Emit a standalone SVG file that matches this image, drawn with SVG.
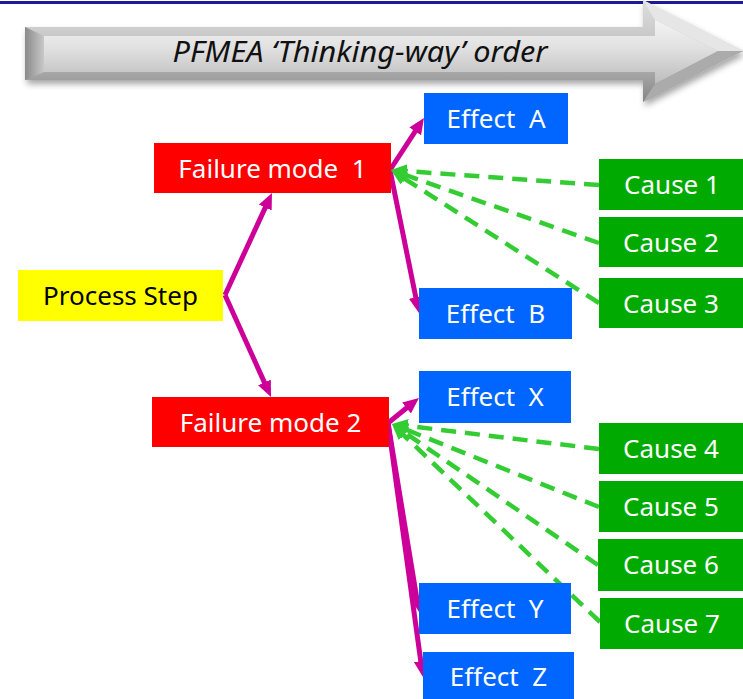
<svg xmlns="http://www.w3.org/2000/svg" width="743" height="699" viewBox="0 0 743 699">
<defs>
<style>
.t{font-family:"Noto Sans","DejaVu Sans",sans-serif;font-size:26px;text-anchor:middle;white-space:pre}
.w{fill:#ffffff}
.k{fill:#000000}
.red{fill:#FF0000}
.blue{fill:#0066FF}
.green{fill:#00AA00}
.yel{fill:#FFFF00}
.mag{stroke:#CC0099;stroke-width:5;fill:none;marker-end:url(#am)}
.dash{stroke:#33CC33;stroke-width:4.5;fill:none;stroke-dasharray:15 9;marker-end:url(#ag)}
</style>
<marker id="am" markerUnits="userSpaceOnUse" markerWidth="18" markerHeight="16" refX="6" refY="7" orient="auto">
<path d="M0,0 L16,7 L0,14 z" fill="#CC0099"/>
</marker>
<marker id="ag" markerUnits="userSpaceOnUse" markerWidth="18" markerHeight="16" refX="6" refY="7" orient="auto">
<path d="M0,0 L16,7 L0,14 z" fill="#33CC33"/>
</marker>
<linearGradient id="gOut" x1="0" y1="0" x2="0" y2="1">
<stop offset="0" stop-color="#dedede"/>
<stop offset="0.5" stop-color="#c0c0c0"/>
<stop offset="1" stop-color="#858585"/>
</linearGradient>
<linearGradient id="gIn" x1="0" y1="0" x2="0" y2="1">
<stop offset="0" stop-color="#f4f4f4"/>
<stop offset="0.45" stop-color="#e0e0e0"/>
<stop offset="1" stop-color="#bcbcbc"/>
</linearGradient>
<linearGradient id="gLeft" x1="0" y1="0" x2="1" y2="0">
<stop offset="0" stop-color="#8a8a8a"/>
<stop offset="1" stop-color="#c8c8c8"/>
</linearGradient>
<filter id="sh" x="-5%" y="-20%" width="110%" height="150%">
<feDropShadow dx="2" dy="4" stdDeviation="3" flood-color="#000" flood-opacity="0.35"/>
</filter>
</defs>

<g id="banner">
<line x1="0" y1="2.5" x2="743" y2="2.5" stroke="#1a1a9a" stroke-width="3"/>
<path d="M25,27 L643,27 L643,0 L743,51 L643,102 L643,80 L25,80 Z" fill="url(#gOut)" filter="url(#sh)"/>
<path d="M25,27 L44,36 L44,72 L25,80 Z" fill="url(#gLeft)"/>
<path d="M44,36 L655,36 L655,20 L718,51 L655,84 L655,72 L44,72 Z" fill="url(#gIn)"/>
<path d="M643,0 L655,20 L718,51 L743,51 Z" fill="#e6e6e6"/>
<path d="M643,102 L655,84 L718,51 L743,51 Z" fill="#ababab"/>
<text x="360" y="62" textLength="375" lengthAdjust="spacingAndGlyphs" style="font-family:'Noto Sans','DejaVu Sans',sans-serif;font-size:29px;font-style:italic;text-anchor:middle" fill="#111">PFMEA ‘Thinking-way’ order</text>
</g>

<g id="connectors">
<path class="mag" d="M225,295 L267.8,202.1"/>
<path class="mag" d="M225,295 L266.9,387.9"/>
<path class="mag" d="M390,170 L418.5,126.4"/>
<path class="mag" d="M390,170 L417.0,303.2"/>
<path class="mag" d="M388,423 L411.2,404.3"/>
<path class="mag" d="M388,423 L417.4,602.1"/>
<path class="mag" d="M388,423 L421.6,667.1"/>
<path class="dash" d="M599,185 L401.0,170.7"/>
<path class="dash" d="M599,243 L400.4,173.3"/>
<path class="dash" d="M599,303 L399.4,175.4"/>
<path class="dash" d="M599,449 L401.9,425.2"/>
<path class="dash" d="M599,507 L401.3,427.7"/>
<path class="dash" d="M598,565 L400.3,429.6"/>
<path class="dash" d="M600,622 L399.2,430.9"/>
</g>

<g id="process-step"><rect class="yel" x="18" y="270" width="205" height="51"/><text class="t k" x="120.5" y="305">Process Step</text></g>
<g id="failure-mode-1"><rect class="red" x="154" y="143" width="237" height="50"/><text class="t w" x="272.5" y="177.5">Failure mode  1</text></g>
<g id="failure-mode-2"><rect class="red" x="152" y="397" width="237" height="50"/><text class="t w" x="270.5" y="431.5">Failure mode 2</text></g>
<g id="effect-a"><rect class="blue" x="424" y="93" width="144" height="51"/><text class="t w" x="496" y="127.5">Effect  A</text></g>
<g id="effect-b"><rect class="blue" x="419" y="288" width="153" height="51"/><text class="t w" x="495.5" y="322.5">Effect  B</text></g>
<g id="effect-x"><rect class="blue" x="419" y="371" width="152" height="52"/><text class="t w" x="495" y="406">Effect  X</text></g>
<g id="effect-y"><rect class="blue" x="419" y="583" width="152" height="51"/><text class="t w" x="495" y="617.5">Effect  Y</text></g>
<g id="effect-z"><rect class="blue" x="423" y="652" width="151" height="47"/><text class="t w" x="498.5" y="686">Effect  Z</text></g>
<g id="cause-1"><rect class="green" x="599" y="159" width="144" height="51"/><text class="t w" x="672" y="194">Cause 1</text></g>
<g id="cause-2"><rect class="green" x="599" y="217" width="144" height="50"/><text class="t w" x="671" y="251.5">Cause 2</text></g>
<g id="cause-3"><rect class="green" x="599" y="278" width="144" height="50"/><text class="t w" x="671" y="312.5">Cause 3</text></g>
<g id="cause-4"><rect class="green" x="599" y="423" width="144" height="51"/><text class="t w" x="671" y="458">Cause 4</text></g>
<g id="cause-5"><rect class="green" x="599" y="481" width="144" height="51"/><text class="t w" x="671" y="516">Cause 5</text></g>
<g id="cause-6"><rect class="green" x="598" y="539" width="145" height="52"/><text class="t w" x="671" y="574">Cause 6</text></g>
<g id="cause-7"><rect class="green" x="600" y="598" width="143" height="51"/><text class="t w" x="672" y="633">Cause 7</text></g>
</svg>
